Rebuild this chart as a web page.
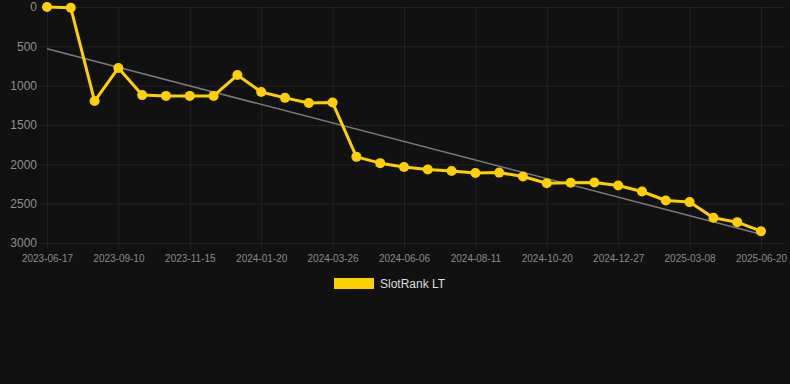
<!DOCTYPE html>
<html>
<head>
<meta charset="utf-8">
<script src="https://cdn.jsdelivr.net/npm/d3@7"></script>
<style>
  html, body { margin: 0; padding: 0; background: #111111; }
  svg { display: block; font-family: "Liberation Sans", Arial, sans-serif; }
</style>
</head>
<body>
<div id="chart"></div>
<script>
// rank values, one per sample (31 samples, every 3rd one is labelled)
const ranks = [0, 10, 1195, 775, 1120, 1130, 1130, 1130, 865, 1080, 1155, 1220, 1215,
  1905, 1985, 2035, 2065, 2085, 2110, 2105, 2155, 2240, 2235, 2230, 2270, 2345,
  2460, 2480, 2680, 2735, 2850]

const tickLabels = ['2023-06-17', '2023-09-10', '2023-11-15', '2024-01-20', '2024-03-26',
  '2024-06-06', '2024-08-11', '2024-10-20', '2024-12-27', '2025-03-08', '2025-06-20']

const yTicks = [0, 500, 1000, 1500, 2000, 2500, 3000]

const seriesName = 'SlotRank LT'

const width = 790
const height = 384
const margin = { top: 7, right: 5, bottom: 141, left: 47 }

const svg = d3
  .select('#chart')
  .append('svg')
  .attr('width', width)
  .attr('height', height)

const x = d3
  .scalePoint()
  .domain(d3.range(ranks.length))
  .range([margin.left, 761])

const y = d3
  .scaleLinear()
  .domain([0, 3000])
  .range([margin.top, 243])

const gridColor = 'rgba(255,255,255,0.07)'

// horizontal grid + y labels
const yAxis = d3
  .axisLeft(y)
  .tickValues(yTicks)
  .tickFormat(d3.format('d'))
  .tickSize(-(width - margin.right - 39))
  .tickPadding(2)

const gy = svg
  .append('g')
  .attr('transform', 'translate(39,0)')
  .call(yAxis)
gy.select('.domain').remove()
gy.selectAll('line').attr('stroke', gridColor)
gy.selectAll('text')
  .attr('fill', '#8f8f8f')
  .attr('font-size', 12)
  .attr('font-family', '"Liberation Sans", Arial, sans-serif')

// vertical grid at labelled samples + x labels
const labelIdx = tickLabels.map((d, i) => i * 3)
const xAxis = d3
  .axisBottom(x)
  .tickValues(labelIdx)
  .tickSize(-(243 - margin.top) - 6)
  .tickPadding(10)
  .tickFormat((d, i) => tickLabels[i])

const gx = svg
  .append('g')
  .attr('transform', 'translate(0,249)')
  .call(xAxis)
gx.select('.domain').remove()
gx.selectAll('line').attr('stroke', gridColor)
gx.selectAll('text')
  .attr('fill', '#8a8a8a')
  .attr('font-size', 10)
  .attr('dy', '0.25em')
  .attr('font-family', '"Liberation Sans", Arial, sans-serif')

// trend line (least squares over the series)
const n = ranks.length
const mx = d3.mean(d3.range(n))
const my = d3.mean(ranks)
const slope = d3.sum(ranks, (v, i) => (i - mx) * (v - my)) /
  d3.sum(d3.range(n), i => (i - mx) * (i - mx))
const intercept = my - slope * mx

svg
  .append('line')
  .attr('x1', x(0))
  .attr('y1', y(intercept))
  .attr('x2', x(n - 1))
  .attr('y2', y(intercept + slope * (n - 1)))
  .attr('stroke', '#7a7a7a')
  .attr('stroke-width', 1.6)

const yellow = '#ffd000'

const line = d3
  .line()
  .x((d, i) => x(i))
  .y(d => y(d))

svg
  .append('path')
  .datum(ranks)
  .attr('d', line)
  .attr('fill', 'none')
  .attr('stroke', yellow)
  .attr('stroke-width', 3)
  .attr('stroke-linejoin', 'round')

svg
  .selectAll('circle')
  .data(ranks)
  .enter()
  .append('circle')
  .attr('cx', (d, i) => x(i))
  .attr('cy', d => y(d))
  .attr('r', 5)
  .attr('fill', yellow)

// legend
const legend = svg.append('g').attr('transform', 'translate(334,278)')
legend
  .append('rect')
  .attr('width', 40)
  .attr('height', 11)
  .attr('fill', yellow)
legend
  .append('text')
  .attr('x', 46)
  .attr('y', 6)
  .attr('dy', '0.35em')
  .attr('fill', '#dddddd')
  .attr('font-size', 12)
  .text(seriesName)
</script>
</body>
</html>
